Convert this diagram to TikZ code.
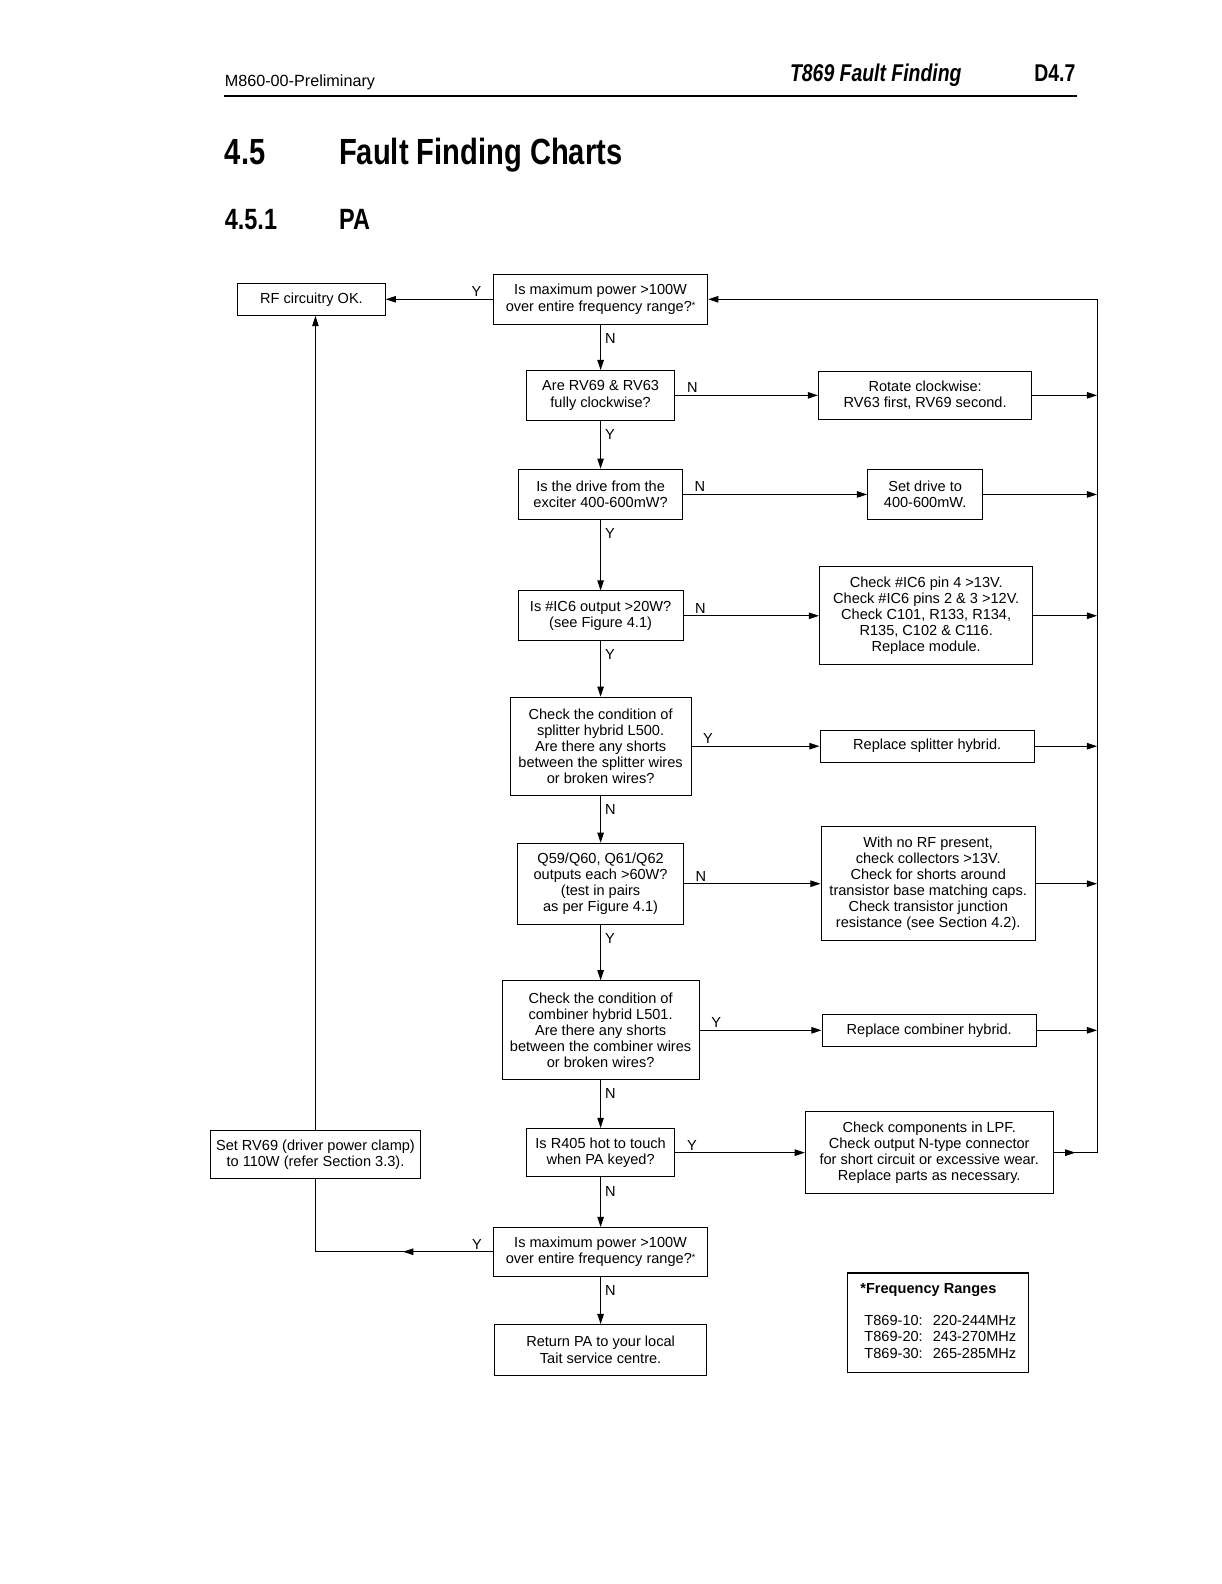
\documentclass[tikz,border=0pt]{standalone}
\usepackage{fontspec}
\setmainfont{Liberation Sans}
\newfontfamily\headfont[FakeStretch=0.8]{Liberation Sans}
\usetikzlibrary{arrows.meta,decorations.markings}
\newcommand{\smallast}{\raisebox{1.5pt}{\fontsize{4.5}{5}\selectfont *}}
\begin{document}
\begin{tikzpicture}[x=0.5pt,y=-0.5pt,
  box/.style={draw, line width=0.5pt, align=center, inner sep=1pt, font=\fontsize{7.2}{8}\selectfont},
  con/.style={line width=0.5pt, -{Triangle[length=5pt,width=3.2pt]}},
  lbl/.style={font=\fontsize{7.2}{8}\selectfont, inner sep=1pt},
  midarr/.style={line width=0.5pt, postaction={decorate},
    decoration={markings, mark=at position #1 with {\arrow{Triangle[length=5pt,width=3.2pt]}}}}]
\useasboundingbox (0,0) rectangle (1207.7,1566.6);

% header
\node[anchor=base west, inner sep=0pt, font=\fontsize{8}{9}\selectfont] (hl) at (222,86) {M860-00-Preliminary};
\node[anchor=base west, inner sep=0pt, font=\headfont\fontsize{12}{14}\selectfont\bfseries\itshape] (hm) at (781,81) {T869 Fault Finding};
\node[anchor=base east, inner sep=0pt, font=\headfont\fontsize{12}{14}\selectfont\bfseries] (hr) at (1064,81) {D4.7};
\coordinate (rl) at (222,95);
\coordinate (rr) at (1065,95);
\draw[line width=0.6pt] (rl) -- (rr);
\node[anchor=base west, inner sep=0pt, font=\headfont\fontsize{18}{20}\selectfont\bfseries] (s1n) at (222,163) {4.5};
\node[anchor=base west, inner sep=0pt, font=\headfont\fontsize{18}{20}\selectfont\bfseries] (s1t) at (335,163) {Fault Finding Charts};
\node[anchor=base west, inner sep=0pt, font=\headfont\fontsize{14.5}{16}\selectfont\bfseries] (s2n) at (222,227) {4.5.1};
\node[anchor=base west, inner sep=0pt, font=\headfont\fontsize{14.5}{16}\selectfont\bfseries] (s2t) at (335,227) {PA};

% main column
\node[box, minimum width=106pt, minimum height=25pt] (q1) at (594,296) {Is maximum power >100W\\over entire frequency range?\smallast};
\node[box, minimum width=73pt, minimum height=16pt] (rf) at (308,296) {RF circuitry OK.};
\node[box, minimum width=73.5pt, minimum height=24.5pt] (rv) at (594,391) {Are RV69 \& RV63\\fully clockwise?};
\node[box, minimum width=81pt, minimum height=25pt] (drv) at (594,489) {Is the drive from the\\exciter 400-600mW?};
\node[box, minimum width=81.5pt, minimum height=24.5pt] (ic) at (594,609) {Is \#IC6 output >20W?\\(see Figure 4.1)};
\node[box, minimum width=89.5pt, minimum height=48.5pt] (spl) at (594,738) {Check the condition of\\splitter hybrid L500.\\Are there any shorts\\between the splitter wires\\or broken wires?};
\node[box, minimum width=82pt, minimum height=40pt] (q59) at (594,874) {Q59/Q60, Q61/Q62\\outputs each >60W?\\(test in pairs\\as per Figure 4.1)};
\node[box, minimum width=97.5pt, minimum height=49pt] (cmb) at (594,1019) {Check the condition of\\combiner hybrid L501.\\Are there any shorts\\between the combiner wires\\or broken wires?};
\node[box, minimum width=73.5pt, minimum height=24pt] (r405) at (594,1140) {Is R405 hot to touch\\when PA keyed?};
\node[box, minimum width=105.5pt, minimum height=24pt] (qf) at (594,1238) {Is maximum power >100W\\over entire frequency range?\smallast};
\node[box, minimum width=105pt, minimum height=25pt] (ret) at (594,1335) {Return PA to your local\\Tait service centre.};
\node[box, minimum width=104pt, minimum height=23.5pt] (srv) at (312,1142) {Set RV69 (driver power clamp)\\to 110W (refer Section 3.3).};

% right column
\node[box, minimum width=105.5pt, minimum height=24pt] (rot) at (915,391) {Rotate clockwise:\\RV63 first, RV69 second.};
\node[box, minimum width=57pt, minimum height=24.5pt] (setd) at (915,489) {Set drive to\\400-600mW.};
\node[box, minimum width=105.5pt, minimum height=48.5pt] (chk) at (916,609) {Check \#IC6 pin 4 >13V.\\Check \#IC6 pins 2 \& 3 >12V.\\Check C101, R133, R134,\\R135, C102 \& C116.\\Replace module.};
\node[box, minimum width=106pt, minimum height=16pt] (rsp) at (917,738) {Replace splitter hybrid.};
\node[box, minimum width=106pt, minimum height=56.5pt] (nrf) at (918,874) {With no RF present,\\check collectors >13V.\\Check for shorts around\\transistor base matching caps.\\Check transistor junction\\resistance (see Section 4.2).};
\node[box, minimum width=106pt, minimum height=16pt] (rcm) at (919,1019) {Replace combiner hybrid.};
\node[box, minimum width=122.5pt, minimum height=40.5pt] (lpf) at (919,1140) {Check components in LPF.\\Check output N-type connector\\for short circuit or excessive wear.\\Replace parts as necessary.};

\node[draw, line width=0.5pt, minimum width=89.5pt, minimum height=49pt, inner sep=0pt, font=\fontsize{7.2}{8}\selectfont] (freq) at (928,1308)
  {\begin{tabular}{@{}l@{\hspace{5pt}}l@{}}\multicolumn{2}{@{}l@{}}{\bfseries *Frequency Ranges}\\[8pt]
   \hspace{2pt}T869-10: & 220-244MHz\\ \hspace{2pt}T869-20: & 243-270MHz\\ \hspace{2pt}T869-30: & 265-285MHz\end{tabular}};

\coordinate (bt) at (1085,296);
\coordinate (bb) at (1085,1140);

% vertical flow
\draw[con] (q1) -- node[lbl, anchor=north west, pos=0, yshift=-3pt, xshift=1pt]{N} (rv);
\draw[con] (rv) -- node[lbl, anchor=north west, pos=0, yshift=-3pt, xshift=1pt]{Y} (drv);
\draw[con] (drv) -- node[lbl, anchor=north west, pos=0, yshift=-3pt, xshift=1pt]{Y} (ic);
\draw[con] (ic) -- node[lbl, anchor=north west, pos=0, yshift=-3pt, xshift=1pt]{Y} (spl);
\draw[con] (spl) -- node[lbl, anchor=north west, pos=0, yshift=-3pt, xshift=1pt]{N} (q59);
\draw[con] (q59) -- node[lbl, anchor=north west, pos=0, yshift=-3pt, xshift=1pt]{Y} (cmb);
\draw[con] (cmb) -- node[lbl, anchor=north west, pos=0, yshift=-3pt, xshift=1pt]{N} (r405);
\draw[con] (r405) -- node[lbl, anchor=north west, pos=0, yshift=-3pt, xshift=1pt]{N} (qf);
\draw[con] (qf) -- node[lbl, anchor=north west, pos=0, yshift=-3pt, xshift=1pt]{N} (ret);

% horizontal flow
\draw[con] (q1) -- node[lbl, anchor=south east, pos=0, xshift=-4.5pt]{Y} (rf);
\draw[con] (rv) -- node[lbl, anchor=south west, pos=0, xshift=4.5pt]{N} (rot);
\draw[con] (drv) -- node[lbl, anchor=south west, pos=0, xshift=4.5pt]{N} (setd);
\draw[con] (ic) -- node[lbl, anchor=south west, pos=0, xshift=4.5pt]{N} (chk);
\draw[con] (spl) -- node[lbl, anchor=south west, pos=0, xshift=4.5pt]{Y} (rsp);
\draw[con] (q59) -- node[lbl, anchor=south west, pos=0, xshift=4.5pt]{N} (nrf);
\draw[con] (cmb) -- node[lbl, anchor=south west, pos=0, xshift=4.5pt]{Y} (rcm);
\draw[con] (r405) -- node[lbl, anchor=south west, pos=0, xshift=4.5pt]{Y} (lpf);

% right boxes to return bus
\draw[con] (rot.east) -- (rot.east -| bt);
\draw[con] (setd.east) -- (setd.east -| bt);
\draw[con] (chk.east) -- (chk.east -| bt);
\draw[con] (rsp.east) -- (rsp.east -| bt);
\draw[con] (nrf.east) -- (nrf.east -| bt);
\draw[con] (rcm.east) -- (rcm.east -| bt);
\draw[midarr=0.5] (lpf.east) -- (bb);
\draw[con] (bb) -- (bt) -- (q1.east);

% left loop
\draw[midarr=0.36] (qf.west) -| node[lbl, anchor=south east, pos=0, xshift=-4.5pt]{Y} (srv.south);
\draw[con] (srv.north) -- (srv.north |- rf.south);
\end{tikzpicture}
\end{document}
